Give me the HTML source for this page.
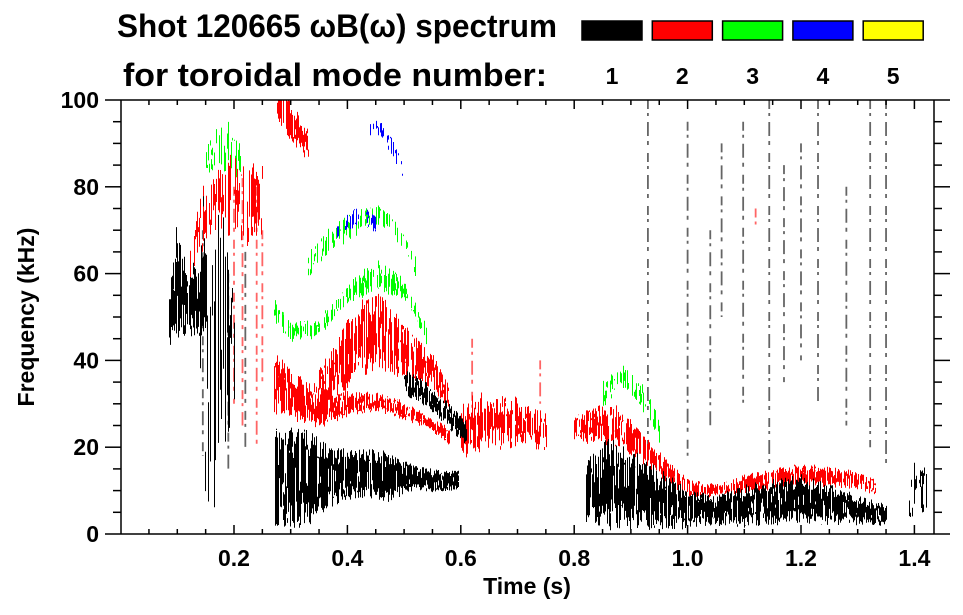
<!DOCTYPE html>
<html><head><meta charset="utf-8"><style>
html,body{margin:0;padding:0;background:#fff;}
svg{display:block;font-family:"Liberation Sans",Arial,sans-serif;font-weight:bold;}
</style></head><body>
<svg id="chart" width="963" height="615" viewBox="0 0 963 615">
<g>
<text x="117" y="37" font-size="32" textLength="440" lengthAdjust="spacingAndGlyphs">Shot 120665 ωB(ω) spectrum</text>
<text x="123" y="86" font-size="32" textLength="424" lengthAdjust="spacingAndGlyphs">for toroidal mode number:</text>
</g>
<g id="legend"></g>
<g id="marks"></g>
<g id="axes"></g>
<text x="527" y="594" font-size="23" text-anchor="middle">Time (s)</text>
<text x="0" y="0" font-size="23" text-anchor="middle" transform="translate(34,317) rotate(-90)">Frequency (kHz)</text>
</svg>
<script>
// ---- data ----
const modeNumbers = [1, 2, 3, 4, 5];
const modeColors = ["#000000", "#ff0000", "#00ff00", "#0000ff", "#ffff00"];
const xTickLabels = [0.2, 0.4, 0.6, 0.8, 1.0, 1.2, 1.4];
const yTickLabels = [0, 20, 40, 60, 80, 100];

// n=1 (black) features: time (s), lower / upper freq (kHz)
const n1EarlyT  = [0.085, 0.095, 0.105, 0.12, 0.135, 0.15];
const n1EarlyLo = [45, 46, 48, 47, 48, 50];
const n1EarlyHi = [52, 68, 64, 58, 62, 66];
const n1SpreadT  = [0.14, 0.16, 0.18, 0.2];
const n1SpreadLo = [20, 22, 28, 35];
const n1SpreadHi = [68, 70, 66, 60];
const n1MainT  = [0.27, 0.29, 0.33, 0.37, 0.42, 0.47, 0.52, 0.56, 0.595];
const n1MainLo = [5, 4, 5, 8, 10, 9, 11, 10, 11];
const n1MainHi = [24, 22, 21, 18, 18, 18, 15, 14, 14];
const n1DiagT  = [0.5, 0.54, 0.58, 0.61];
const n1DiagLo = [33, 30, 25, 21];
const n1DiagHi = [37, 34, 29, 25];
const n1LateT  = [0.82, 0.86, 0.9, 0.95, 1.0, 1.05, 1.1, 1.15, 1.2, 1.25, 1.3, 1.35];
const n1LateLo = [5, 4, 4, 3, 2.5, 3, 3, 3.5, 4, 3.5, 3, 2.5];
const n1LateHi = [15, 19, 17, 13, 9, 8, 10, 11, 12, 10, 8, 6];
const n1TailT  = [1.39, 1.405, 1.42];
const n1TailLo = [6, 5, 7];
const n1TailHi = [14, 15, 13];
const n1StreakT  = [0.19, 0.145, 0.22, 0.93, 1.0, 1.04, 1.098, 1.144, 1.2, 1.23, 1.28, 1.322, 1.35, 1.06, 1.17];
const n1StreakLo = [15, 18, 20, 20, 18, 25, 30, 15, 40, 30, 25, 20, 15, 50, 35];
const n1StreakHi = [60, 70, 65, 100, 95, 70, 95, 100, 90, 100, 80, 100, 100, 90, 85];

// n=2 (red)
const n2EarlyT  = [0.12, 0.14, 0.16, 0.19, 0.22, 0.25];
const n2EarlyLo = [58, 66, 72, 72, 70, 72];
const n2EarlyHi = [62, 76, 80, 84, 82, 82];
const n2TopT  = [0.275, 0.29, 0.31, 0.33];
const n2TopLo = [96, 93, 90, 87];
const n2TopHi = [100, 100, 96, 92];
const n2LowT  = [0.27, 0.3, 0.35, 0.4, 0.45, 0.5, 0.55, 0.58];
const n2LowLo = [30, 28, 26, 28, 29, 27, 24, 21];
const n2LowHi = [40, 36, 33, 32, 32, 30, 26, 24];
const n2ArcT  = [0.35, 0.38, 0.42, 0.46, 0.5, 0.55, 0.58];
const n2ArcLo = [33, 33, 40, 40, 38, 35, 29];
const n2ArcHi = [37, 42, 51, 52, 46, 40, 33];
const n2MidT  = [0.6, 0.65, 0.7, 0.75];
const n2MidLo = [20, 22, 22, 21];
const n2MidHi = [28, 31, 29, 26];
const n2LateT  = [0.8, 0.87, 0.95, 1.0, 1.05, 1.1, 1.2, 1.3, 1.33];
const n2LateLo = [22, 22, 14, 9, 9, 10, 12, 11, 9.5];
const n2LateHi = [27, 29, 18, 12, 11, 13, 15.5, 14, 12];
const n2StreakT  = [0.2, 0.215, 0.24, 0.25, 0.62, 0.74, 1.12];
const n2StreakLo = [30, 25, 20, 35, 25, 30, 70];
const n2StreakHi = [80, 82, 80, 70, 45, 40, 75];

// n=3 (green)
const n3EarlyT  = [0.15, 0.17, 0.19, 0.21];
const n3EarlyLo = [84, 85, 86, 82];
const n3EarlyHi = [88, 92, 93, 88];
const n3ArcT  = [0.27, 0.3, 0.35, 0.4, 0.45, 0.5, 0.54];
const n3ArcLo = [50, 45, 46, 54, 57, 55, 44];
const n3ArcHi = [54, 48, 49, 57, 62, 58, 47];
const n3UpT  = [0.33, 0.37, 0.42, 0.46, 0.5, 0.52];
const n3UpLo = [60, 66, 70, 72, 66, 60];
const n3UpHi = [64, 70, 74, 75, 69, 63];
const n3LateT  = [0.85, 0.88, 0.91, 0.95];
const n3LateLo = [30, 34, 32, 22];
const n3LateHi = [34, 38, 36, 26];

// n=4 (blue)
const n4TopT  = [0.44, 0.46, 0.48, 0.5];
const n4TopLo = [92, 91, 87, 82];
const n4TopHi = [95, 94, 90, 84];
const n4MidT  = [0.38, 0.42, 0.45];
const n4MidLo = [68, 72, 70];
const n4MidHi = [71, 75, 73];

// ---- scales ----
const X0 = 121, X1 = 934, Y0 = 100, Y1 = 534;
function xs(t){ return 120.6 + t * 567; }
function ys(f){ return 534 - f * 4.34; }

const NS = "http://www.w3.org/2000/svg";
const marks = document.getElementById('marks');
const axes = document.getElementById('axes');
const legend = document.getElementById('legend');

// deterministic texture generator
let seed = 12345;
function rnd(){ seed = (seed * 1103515245 + 12345) & 0x7fffffff; return seed / 0x7fffffff; }

function interp(T, V, t){
  if (t <= T[0]) return V[0];
  for (let i = 1; i < T.length; i++){
    if (t <= T[i]){ const a = (t - T[i-1]) / (T[i] - T[i-1]); return V[i-1] + a * (V[i] - V[i-1]); }
  }
  return V[V.length - 1];
}

function drawBand(name, T, Lo, Hi, color, density, jitter){
  const g = document.createElementNS(NS, 'g');
  
  
  g.setAttribute('fill', color);
  const xa = Math.round(xs(T[0])), xb = Math.round(xs(T[T.length-1]));
  let d = '';
  for (let px = xa; px <= xb; px++){
    const t = (px - 120.6) / 567;
    const lo = interp(T, Lo, t), hi = interp(T, Hi, t);
    const w = hi - lo;
    const nSeg = 1 + Math.floor(rnd() * 3);
    for (let k = 0; k < nSeg; k++){
      if (rnd() > density) continue;
      let a = lo + (rnd() - 0.5) * w * jitter;
      let b = hi + (rnd() - 0.5) * w * jitter;
      if (nSeg > 1){ const c = a + (b - a) * rnd(); if (rnd() < 0.5) a = c; else b = c; }
      const ya = Math.max(Y0, ys(Math.max(a, b))), yb = Math.min(Y1, ys(Math.min(a, b)));
      if (yb - ya < 0.5) continue;
      d += 'M' + px + ' ' + ya.toFixed(1) + 'h1V' + yb.toFixed(1) + 'h-1Z';
    }
  }
  const p = document.createElementNS(NS, 'path');
  p.setAttribute('d', d);
  g.appendChild(p);
  marks.appendChild(g);
}

function drawStreaks(name, T, Lo, Hi, color){
  const g = document.createElementNS(NS, 'g');
  
  
  for (let i = 0; i < T.length; i++){
    const l = document.createElementNS(NS, 'line');
    
    
    l.setAttribute('x1', xs(T[i]));
    l.setAttribute('x2', xs(T[i]));
    l.setAttribute('y1', ys(Hi[i]));
    l.setAttribute('y2', ys(Lo[i]));
    l.setAttribute('stroke', color);
    l.setAttribute('stroke-width', 1.8);
    l.setAttribute('stroke-dasharray', '9 4 3 6 14 5 4 8');
    l.setAttribute('opacity', 0.6);
    g.appendChild(l);
  }
  marks.appendChild(g);
}

drawStreaks('n1-streaks', n1StreakT, n1StreakLo, n1StreakHi, modeColors[0]);
drawStreaks('n2-streaks', n2StreakT, n2StreakLo, n2StreakHi, modeColors[1]);
drawBand('n3-early', n3EarlyT, n3EarlyLo, n3EarlyHi, modeColors[2], 0.45, 0.6);
drawBand('n3-arc', n3ArcT, n3ArcLo, n3ArcHi, modeColors[2], 0.5, 0.6);
drawBand('n3-upper', n3UpT, n3UpLo, n3UpHi, modeColors[2], 0.4, 0.6);
drawBand('n3-late', n3LateT, n3LateLo, n3LateHi, modeColors[2], 0.45, 0.6);
drawBand('n4-top', n4TopT, n4TopLo, n4TopHi, modeColors[3], 0.5, 0.5);
drawBand('n4-mid', n4MidT, n4MidLo, n4MidHi, modeColors[3], 0.35, 0.5);
drawBand('n2-early', n2EarlyT, n2EarlyLo, n2EarlyHi, modeColors[1], 0.55, 0.7);
drawBand('n2-top', n2TopT, n2TopLo, n2TopHi, modeColors[1], 0.9, 0.5);
drawBand('n2-low', n2LowT, n2LowLo, n2LowHi, modeColors[1], 0.9, 0.5);
drawBand('n2-arc', n2ArcT, n2ArcLo, n2ArcHi, modeColors[1], 0.85, 0.6);
drawBand('n2-mid', n2MidT, n2MidLo, n2MidHi, modeColors[1], 0.75, 0.7);
drawBand('n2-late', n2LateT, n2LateLo, n2LateHi, modeColors[1], 0.85, 0.5);
drawBand('n1-early', n1EarlyT, n1EarlyLo, n1EarlyHi, modeColors[0], 0.95, 0.4);
drawBand('n1-spread', n1SpreadT, n1SpreadLo, n1SpreadHi, modeColors[0], 0.5, 0.8);
drawBand('n1-main', n1MainT, n1MainLo, n1MainHi, modeColors[0], 0.98, 0.4);
drawBand('n1-diagonal', n1DiagT, n1DiagLo, n1DiagHi, modeColors[0], 0.85, 0.5);
drawBand('n1-late', n1LateT, n1LateLo, n1LateHi, modeColors[0], 0.98, 0.45);
drawBand('n1-tail', n1TailT, n1TailLo, n1TailHi, modeColors[0], 0.6, 0.6);

// ---- axes ----
function line(x1, y1, x2, y2, name){
  const l = document.createElementNS(NS, 'line');
  l.setAttribute('x1', x1); l.setAttribute('y1', y1);
  l.setAttribute('x2', x2); l.setAttribute('y2', y2);
  l.setAttribute('stroke', '#000'); l.setAttribute('stroke-width', 1.5);
  
  
  axes.appendChild(l);
}
function text(x, y, s, anchor, size, name){
  const t = document.createElementNS(NS, 'text');
  t.setAttribute('x', x); t.setAttribute('y', y);
  t.setAttribute('text-anchor', anchor); t.setAttribute('font-size', size);
  t.textContent = s;
  
  
  axes.appendChild(t);
  return t;
}
line(X0, Y0, X0, Y1, 'y-axis-left');
line(X1, Y0, X1, Y1, 'y-axis-right');
line(X0, Y1, X1, Y1, 'x-axis-bottom');
line(X0, Y0, X1, Y0, 'x-axis-top');
for (let f = 0; f <= 100; f += 5){
  const major = f % 20 === 0;
  const len = major ? 16 : 8;
  line(X0 - len, ys(f), X0, ys(f), 'y-tick');
  line(X1, ys(f), X1 + len, ys(f), 'y-tick-right');
}
yTickLabels.forEach(v => text(99, ys(v) + 8, String(v), 'end', 23, 'y-tick-label'));
for (let i = 1; i <= 28; i++){
  const t = i * 0.05;
  const major = i % 4 === 0;
  const len = major ? 9 : 5;
  line(xs(t), Y1, xs(t), Y1 - len, 'x-tick');
  line(xs(t), Y0, xs(t), Y0 + len, 'x-tick-top');
}
xTickLabels.forEach(v => text(xs(v), 566, v.toFixed(1), 'middle', 23, 'x-tick-label'));

// ---- legend ----
modeNumbers.forEach((n, i) => {
  const x = 582 + i * 70.3;
  const r = document.createElementNS(NS, 'rect');
  r.setAttribute('x', x); r.setAttribute('y', 21);
  r.setAttribute('width', 60); r.setAttribute('height', 19);
  r.setAttribute('fill', modeColors[i]); r.setAttribute('stroke', '#000'); r.setAttribute('stroke-width', 1.5);
  
  
  legend.appendChild(r);
  const t = document.createElementNS(NS, 'text');
  t.setAttribute('x', x + 30); t.setAttribute('y', 84);
  t.setAttribute('text-anchor', 'middle'); t.setAttribute('font-size', 23);
  t.textContent = String(n);
  
  
  legend.appendChild(t);
});
</script>
</body></html>
